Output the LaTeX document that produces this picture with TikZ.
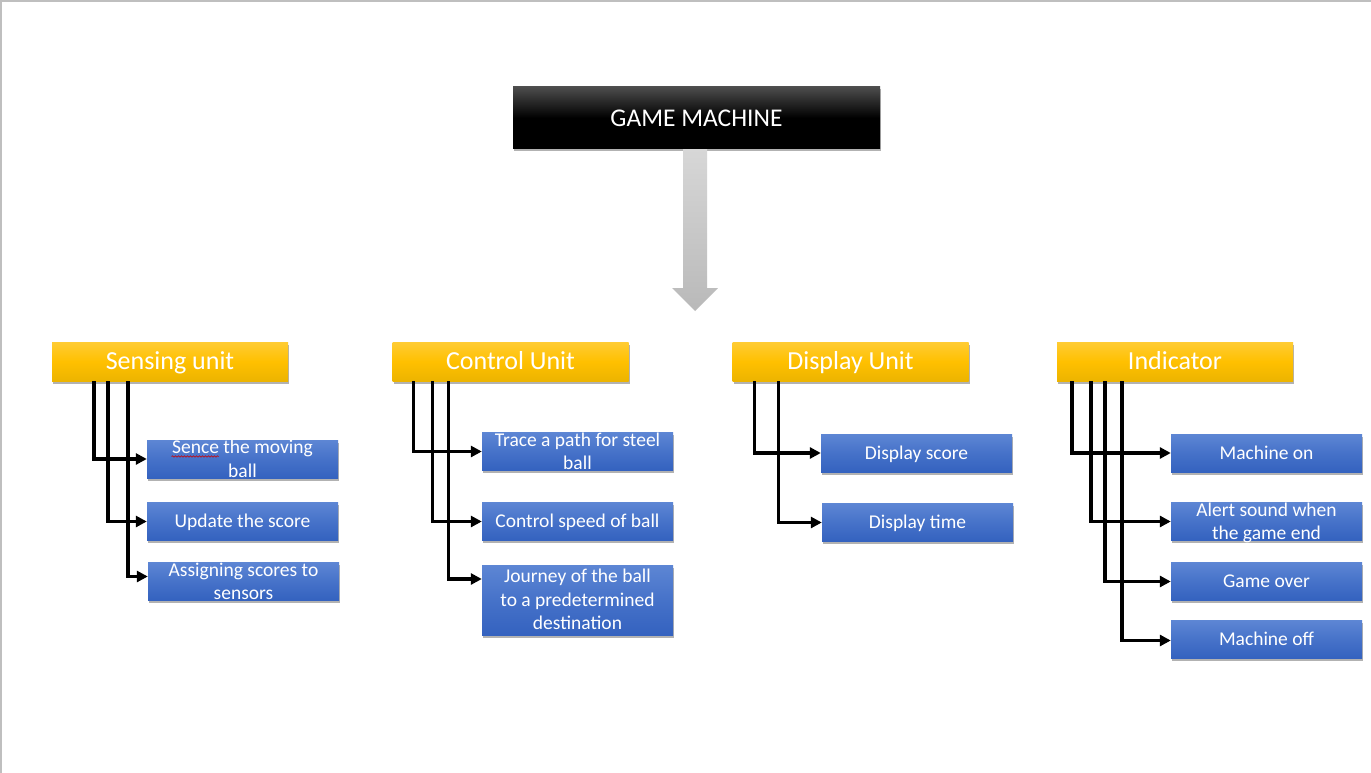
\documentclass[tikz,border=0pt]{standalone}
\usepackage{fontspec}
\setmainfont{Carlito}
\usetikzlibrary{arrows.meta,shadows,decorations.pathmorphing,calc}
\definecolor{bluetop}{RGB}{93,134,212}
\definecolor{bluemid}{RGB}{70,114,201}
\definecolor{bluebot}{RGB}{52,98,191}
\definecolor{yeltop}{RGB}{255,204,52}
\definecolor{yelmid}{RGB}{255,192,0}
\definecolor{yelbot}{RGB}{236,180,0}
\definecolor{greytop}{RGB}{215,215,215}
\definecolor{greybot}{RGB}{185,185,185}
\tikzset{
  shad/.style={drop shadow={shadow xshift=1pt,shadow yshift=-2.5pt,opacity=0.3,fill=black}},
  topbox/.style={shad,rectangle,inner sep=0pt,minimum width=367pt,minimum height=62pt,
    top color=black!70,bottom color=black,middle color=black,text=white,
    text height=16.4pt,text depth=0pt,
    font=\fontsize{25.5}{30}\selectfont},
  unitbox/.style={shad,rectangle,inner sep=0pt,minimum width=236pt,minimum height=39pt,
    top color=yeltop,bottom color=yelbot,middle color=yelmid,text=white,
    text height=16.8pt,text depth=0pt,
    font=\fontsize{26}{30}\selectfont},
  leafbox/.style={shad,rectangle,inner sep=0pt,minimum width=191pt,minimum height=38pt,
    top color=bluetop,bottom color=bluebot,middle color=bluemid,text=white,
    align=center,text height=12.6pt,text depth=0pt,
    font=\fontsize{19.5}{23.5}\selectfont},
  twolines/.style={text height=36.1pt},
  threelines/.style={text height=59.6pt,minimum height=70pt},
  conn/.style={line width=3.5pt,line join=miter,-{Triangle[length=11pt,width=11pt]}},
}
\begin{document}
\begin{tikzpicture}[x=1pt,y=-1pt]
\useasboundingbox (0,0) rectangle (1371,773);
\fill[white] (0,0) rectangle (1371,773);
\draw[black!25,line width=1.5pt] (0.75,773) -- (0.75,1) -- (1371,1);

% top node
\node[topbox] (gm) at (696.5,118) {GAME MACHINE};
% big gray arrow
\coordinate (arrtip) at (695,311);
\shade[top color=greytop,bottom color=greybot]
  (gm.south -| 683,0) -- (683,288) -- (672,288) -- (arrtip) -- (718,288) -- (707,288) -- (gm.south -| 707,0) -- cycle;

% units
\node[unitbox] (su) at (170,361.5) {Sensing unit};
\node[unitbox] (cu) at (510.5,361.5) {Control Unit};
\node[unitbox] (du) at (850.5,361.5) {Display Unit};
\node[unitbox] (iu) at (1175,361.5) {Indicator};

% sensing leaves
\node[leafbox,twolines] (s1) at (242.5,459) {Sence the moving\\ball};
\node[leafbox] (s2) at (242.5,521.5) {Update the score};
\node[leafbox,twolines] (s3) at (243.5,581.5) {Assigning scores to\\sensors};
% control leaves
\node[leafbox,twolines] (c1) at (577.5,451.5) {Trace a path for steel\\ball};
\node[leafbox] (c2) at (577.5,521.5) {Control speed of ball};
\node[leafbox,threelines] (c3) at (577.5,600) {Journey of the ball\\to a predetermined\\destination};
% display leaves
\node[leafbox] (d1) at (916.5,453) {Display score};
\node[leafbox] (d2) at (917.5,522.5) {Display time};
% indicator leaves
\node[leafbox] (i1) at (1266.5,453) {Machine on};
\node[leafbox,twolines] (i2) at (1266.5,521.5) {Alert sound when\\the game end};
\node[leafbox] (i3) at (1266.5,581.5) {Game over};
\node[leafbox] (i4) at (1266.5,639.5) {Machine off};

% red spell-check underline under "Sence"
\draw[red!80!black,line width=0.6pt,decorate,decoration={snake,amplitude=0.7pt,segment length=3pt}]
  ([xshift=-71pt,yshift=2.5pt]s1.center) -- ([xshift=-24pt,yshift=2.5pt]s1.center);

% connectors sensing
\draw[conn] ([xshift=42pt]su.south west) |- (s1.west);
\draw[conn] ([xshift=56pt]su.south west) |- (s2.west);
\draw[conn] ([xshift=76pt]su.south west) |- ([yshift=5pt]s3.west);
% connectors control
\draw[conn] ([xshift=21pt]cu.south west) |- (c1.west);
\draw[conn] ([xshift=40pt]cu.south west) |- (c2.west);
\draw[conn] ([xshift=56pt]cu.south west) |- ([yshift=21pt]c3.west);
% connectors display
\draw[conn] ([xshift=22pt]du.south west) |- (d1.west);
\draw[conn] ([xshift=46pt]du.south west) |- (d2.west);
% connectors indicator
\draw[conn] ([xshift=15pt]iu.south west) |- (i1.west);
\draw[conn] ([xshift=34pt]iu.south west) |- (i2.west);
\draw[conn] ([xshift=48pt]iu.south west) |- ([yshift=0pt]i3.west);
\draw[conn] ([xshift=65pt]iu.south west) |- ([yshift=-1pt]i4.west);
\end{tikzpicture}
\end{document}
